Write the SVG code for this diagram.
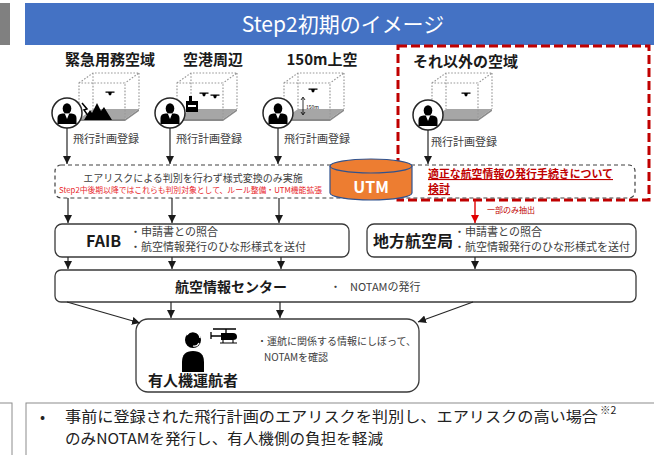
<svg xmlns="http://www.w3.org/2000/svg" width="654" height="455" viewBox="0 0 654 455">
  <defs>
    <style>
      text { font-family: "Noto Sans CJK JP", "Noto Sans", sans-serif; }
      .hd { font-size: 15px; font-weight: 700; fill: #1a1a1a; }
      .reg { font-size: 11px; fill: #404040; }
      .bul { font-size: 11px; fill: #404040; }
      .box { fill: #ffffff; stroke: #3a3a3a; stroke-width: 1.3; }
      .ln { stroke: #262626; stroke-width: 1.2; fill: none; }
      .dot { stroke: #9a9a9a; stroke-width: 1.2; stroke-dasharray: 1.6 1.6; fill: none; }
      .sum { font-size: 15px; fill: #222222; }
    </style>
    <marker id="ah" viewBox="0 0 10 10" refX="10" refY="5" markerWidth="8" markerHeight="8" markerUnits="userSpaceOnUse" orient="auto">
      <path d="M0 0 L10 5 L0 10 Z" fill="#1a1a1a"/>
    </marker>
    <marker id="ahr" viewBox="0 0 10 10" refX="10" refY="5" markerWidth="8" markerHeight="8" markerUnits="userSpaceOnUse" orient="auto">
      <path d="M0 0 L10 5 L0 10 Z" fill="#e00000"/>
    </marker>
    <!-- wireframe airspace cube, origin at front-top-left corner -->
    <g id="cube">
      <polygon points="0,36 46,36 60,26 14,26" fill="#a6a6a6"/>
      <polygon points="0,36 46,36 60,26 60,28 46,38 0,38" fill="#8a8a8a"/>
      <path class="dot" d="M0 36 V0 H46 V36 M0 0 L14 -10 H60 L46 0 M60 -10 V26 M14 -10 V26"/>
    </g>
    <!-- pilot badge: white disc with suited figure -->
    <g id="pilot">
      <circle r="15" fill="#ffffff" stroke="#262626" stroke-width="1.5"/>
      <ellipse cx="0" cy="-4.5" rx="4.3" ry="5.3" fill="#000"/>
      <path d="M-9.5 11 V5 Q-9.5 1 -4.5 0.6 H4.5 Q9.5 1 9.5 5 V11 Z" fill="#000"/>
      <path d="M-2.2 0.6 L0 6 L2.2 0.6 Z" fill="#fff"/>
    </g>
    <path id="drone" d="M-4.5 -1.5 H4.5 V-0.3 H-4.5 Z M-1.8 -0.3 H1.8 L1 2.2 H-1 Z" fill="#000"/>
  </defs>

  <!-- header -->
  <rect x="0" y="3" width="10" height="42" fill="#808080"/>
  <rect x="25" y="3" width="629" height="42" fill="#4472c4"/>
  <text x="343" y="32" font-size="21" fill="#ffffff" text-anchor="middle">Step2初期のイメージ</text>

  <!-- highlighted zone for remaining airspace -->
  <rect x="398" y="46" width="251" height="154" fill="none" stroke="#c00000" stroke-width="3" stroke-dasharray="9 4"/>

  <!-- airspace columns -->
  <g id="col-emergency">
    <text class="hd" x="110" y="65" text-anchor="middle">緊急用務空域</text>
    <use href="#cube" x="79" y="83"/>
    <polygon points="84,120 90,110 92,113 97,103 101,111 104,107 112,120" fill="#000"/>
    <polyline points="82,103 87,109 84,110 89,117" fill="none" stroke="#000" stroke-width="1.5"/>
    <use href="#drone" x="110" y="93"/>
    <use href="#pilot" x="67" y="113"/>
    <text class="reg" x="73" y="143">飛行計画登録</text>
  </g>
  <g id="col-airport">
    <text class="hd" x="213" y="65" text-anchor="middle">空港周辺</text>
    <use href="#cube" x="177" y="83"/>
    <path d="M186 112 V101 H189 V96 H192 V101 H198 V112 Z" fill="#000"/>
    <rect x="188" y="105" width="8" height="2" fill="#fff"/>
    <use href="#drone" x="204" y="94"/>
    <use href="#drone" x="215" y="96"/>
    <use href="#pilot" x="170" y="113"/>
    <text class="reg" x="176" y="143">飛行計画登録</text>
  </g>
  <g id="col-150m">
    <text class="hd" x="322" y="65" text-anchor="middle">150m上空</text>
    <use href="#cube" x="284" y="83"/>
    <use href="#drone" x="313" y="90"/>
    <path d="M303 98 V114" stroke="#000" stroke-width="0.8"/>
    <path d="M301 100 L303 97 L305 100 M301 112 L303 115 L305 112" fill="none" stroke="#000" stroke-width="0.8"/>
    <text x="306" y="109" font-size="5" fill="#000">150m</text>
    <use href="#pilot" x="278" y="113"/>
    <text class="reg" x="284" y="143">飛行計画登録</text>
  </g>
  <g id="col-other">
    <text class="hd" x="413" y="67" font-size="14.5">それ以外の空域</text>
    <use href="#cube" x="432" y="83"/>
    <use href="#drone" x="466" y="94"/>
    <use href="#pilot" x="428" y="115"/>
    <text class="reg" x="431" y="146">飛行計画登録</text>
  </g>

  <!-- format conversion stage -->
  <g id="conversion">
    <rect x="55" y="165" width="580" height="33" rx="6" fill="#ffffff" stroke="#404040" stroke-width="1.2" stroke-dasharray="4 3"/>
    <text x="193" y="182" font-size="10" fill="#404040" text-anchor="middle">エアリスクによる判別を行わず様式変換のみ実施</text>
    <text x="59" y="193" font-size="8" fill="#e8262b" textLength="263" lengthAdjust="spacingAndGlyphs">Step2中後期以降ではこれらも判別対象として、ルール整備・UTM機能拡張</text>
    <text x="428" y="178" font-size="11" font-weight="700" fill="#c00000" text-decoration="underline" textLength="185" lengthAdjust="spacingAndGlyphs">適正な航空情報の発行手続きについて</text>
    <text x="428" y="193" font-size="11" font-weight="700" fill="#c00000" text-decoration="underline">検討</text>
  </g>

  <!-- UTM database -->
  <g id="utm">
    <path d="M330 166 V193 A41 7 0 0 0 412 193 V166" fill="#ed7d31" stroke="#2f528f" stroke-width="1.2"/>
    <ellipse cx="371" cy="166" rx="41" ry="7" fill="#ed7d31" stroke="#2f528f" stroke-width="1.2"/>
    <text x="371" y="193" font-size="16" font-weight="700" fill="#ffffff" text-anchor="middle">UTM</text>
  </g>

  <!-- FAIB -->
  <g id="faib">
    <rect class="box" x="55" y="224" width="294" height="33" rx="7"/>
    <text x="86" y="247" font-size="16" font-weight="700" fill="#1a1a1a">FAIB</text>
    <text class="bul" x="130" y="236">・申請書との照合</text>
    <text class="bul" x="130" y="251">・航空情報発行のひな形様式を送付</text>
  </g>

  <!-- regional civil aviation bureau -->
  <g id="regional-bureau">
    <rect class="box" x="367" y="224" width="269" height="33" rx="7"/>
    <text x="373" y="247" font-size="16" font-weight="700" fill="#1a1a1a">地方航空局</text>
    <text class="bul" x="454" y="236">・申請書との照合</text>
    <text class="bul" x="454" y="251">・航空情報発行のひな形様式を送付</text>
  </g>

  <!-- aeronautical information center -->
  <g id="aic">
    <rect class="box" x="55" y="270" width="581" height="32" rx="6"/>
    <text x="175" y="292" font-size="14" font-weight="700" fill="#1a1a1a">航空情報センター</text>
    <text class="bul" x="330" y="291">・</text>
    <text class="bul" x="350" y="291">NOTAMの発行</text>
  </g>

  <!-- manned aircraft operators -->
  <g id="operator">
    <rect class="box" x="136" y="319" width="283" height="73" rx="12"/>
    <circle cx="193" cy="340" r="8" fill="#000"/>
    <path d="M187 335 A7 7 0 0 1 200 338" fill="none" stroke="#fff" stroke-width="1.4"/>
    <path d="M199 343 Q197 347 193 346" fill="none" stroke="#fff" stroke-width="1.2"/>
    <path d="M182 372 V362 Q182 351 193 351 Q204 351 204 362 V372 Z" fill="#000"/>
    <g id="helicopter">
      <path d="M213 329 H236 M226 329 V333" stroke="#000" stroke-width="1.3" fill="none"/>
      <path d="M221 333 H233 Q237 333 237 337 Q237 340 233 340 H221 Z" fill="#000"/>
      <path d="M221 336 H211 M211 332 V339" stroke="#000" stroke-width="1.3" fill="none"/>
      <path d="M223 340 V343 M233 340 V343 M220 343 H237" stroke="#000" stroke-width="1.1" fill="none"/>
    </g>
    <text x="193" y="386" font-size="15" font-weight="700" fill="#1a1a1a" text-anchor="middle">有人機運航者</text>
    <text x="257" y="345" font-size="10" fill="#404040">・運航に関係する情報にしぼって、</text>
    <text x="264" y="361" font-size="10" fill="#404040">NOTAMを確認</text>
  </g>

  <!-- connectors -->
  <g id="connectors" class="ln" marker-end="url(#ah)">
    <path d="M67 128 V164"/>
    <path d="M170 128 V164"/>
    <path d="M278 128 V164"/>
    <path d="M428 130 V164"/>
    <path d="M68 198 V223"/>
    <path d="M172 198 V223"/>
    <path d="M279 198 V223"/>
    <path d="M475 200 V223" stroke="#e00000" stroke-width="1.4" marker-end="url(#ahr)"/>
    <path d="M68 257 V269"/>
    <path d="M172 257 V269"/>
    <path d="M281 257 V269"/>
    <path d="M475 257 V269"/>
    <path d="M67 302 L140 323"/>
    <path d="M171 302 V318"/>
    <path d="M280 302 V318"/>
    <path d="M473 302 L418 322"/>
  </g>
  <text x="487" y="213" font-size="8" fill="#c00000">一部のみ抽出</text>

  <!-- summary -->
  <rect x="-1" y="403" width="13" height="60" fill="none" stroke="#8c8c8c" stroke-width="1"/>
  <rect x="26" y="403" width="640" height="60" fill="#ffffff" stroke="#8c8c8c" stroke-width="1"/>
  <text class="sum" x="40" y="422">•</text>
  <text class="sum" x="65" y="422" textLength="533" lengthAdjust="spacingAndGlyphs">事前に登録された飛行計画のエアリスクを判別し、エアリスクの高い場合</text>
  <text x="600" y="414" font-size="10.5" fill="#222">※2</text>
  <text class="sum" x="65" y="444" textLength="318" lengthAdjust="spacingAndGlyphs">のみNOTAMを発行し、有人機側の負担を軽減</text>
</svg>
